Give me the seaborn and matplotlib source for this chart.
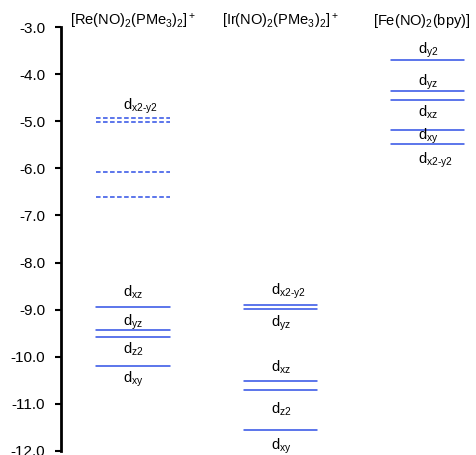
import matplotlib
matplotlib.use("Agg")
import matplotlib.pyplot as plt
import pandas as pd
import seaborn as sns

# complexes (columns)
complexes = ["[Re(NO)$_2$(PMe$_3$)$_2$]$^+$",
             "[Ir(NO)$_2$(PMe$_3$)$_2$]$^+$",
             "[Fe(NO)$_2$(bpy)]"]
title_x = [1, 2, 2.96]

# orbital energies (eV)
re_empty = [-4.94, -5.02, -6.08, -6.61]
re_filled = [-8.94, -9.43, -9.59, -10.20]
ir_filled = [-8.90, -8.98, -10.52, -10.70, -11.55]
fe_filled = [-3.69, -4.35, -4.56, -5.19, -5.48]

# orbital labels and their positions
re_labels = ["x2-y2", "xz", "yz", "z2", "xy"]
re_label_y = [-4.76, -8.73, -9.33, -9.93, -10.55]
ir_labels = ["x2-y2", "yz", "xz", "z2", "xy"]
ir_label_y = [-8.69, -9.36, -10.32, -11.20, -11.98]
fe_labels = ["y2", "yz", "xz", "xy", "x2-y2"]
fe_label_y = [-3.56, -4.25, -4.91, -5.40, -5.89]

half = 0.25
rows = []
for col, (vals, kind) in enumerate([(re_empty, "empty"), (re_filled, "filled"),
                                    (ir_filled, "filled"), (fe_filled, "filled")]):
    pos = [1, 1, 2, 3][col]
    for i, e in enumerate(vals):
        uid = f"{col}-{i}"
        rows.append({"x": pos - half, "E": e, "level": uid, "kind": kind})
        rows.append({"x": pos + half, "E": e, "level": uid, "kind": kind})
df = pd.DataFrame(rows)

sns.set_style("ticks")
plt.rcParams["font.family"] = ["Liberation Sans", "DejaVu Sans"]
plt.rcParams["mathtext.fontset"] = "custom"
plt.rcParams["mathtext.rm"] = "Liberation Sans"
plt.rcParams["mathtext.it"] = "Liberation Sans"
plt.rcParams["axes.unicode_minus"] = False
plt.rcParams["text.color"] = "black"
plt.rcParams["ytick.color"] = "black"
plt.rcParams["axes.edgecolor"] = "black"

fig = plt.figure(figsize=(4.77, 4.55), dpi=100)
ax = fig.add_axes([61 / 477, 4 / 455, 416 / 477, 424 / 455])

blue = "#2f50e6"
sns.lineplot(data=df, x="x", y="E", units="level", estimator=None,
             style="kind", dashes={"filled": "", "empty": (3, 1.6)},
             color=blue, linewidth=1.1, legend=False, ax=ax)

for pos, labels, ys in [(1, re_labels, re_label_y), (2, ir_labels, ir_label_y),
                        (3, fe_labels, fe_label_y)]:
    for lab, y in zip(labels, ys):
        ax.text(pos - 0.065, y, f"d$_{{\\text{{{lab}}}}}$", ha="left",
                va="baseline", fontsize=10.5)

for pos, name in zip(title_x, complexes):
    ax.text(pos, -2.96, name, ha="center", va="baseline", fontsize=10.5,
            clip_on=False)

ax.set_xlim(0.511, 3.335)
ax.set_ylim(-12.0, -3.0)
ax.set_yticks([-3, -4, -5, -6, -7, -8, -9, -10, -11, -12])
ax.set_yticklabels([f"{v:.1f}" for v in ax.get_yticks()], fontsize=11)
ax.set_xticks([])
ax.set_xlabel("")
ax.set_ylabel("")
sns.despine(ax=ax, bottom=True)
ax.spines["left"].set_linewidth(2)
ax.tick_params(axis="y", direction="out", length=4.5, width=1.5, pad=7)

fig.savefig("out.png", dpi=100)
